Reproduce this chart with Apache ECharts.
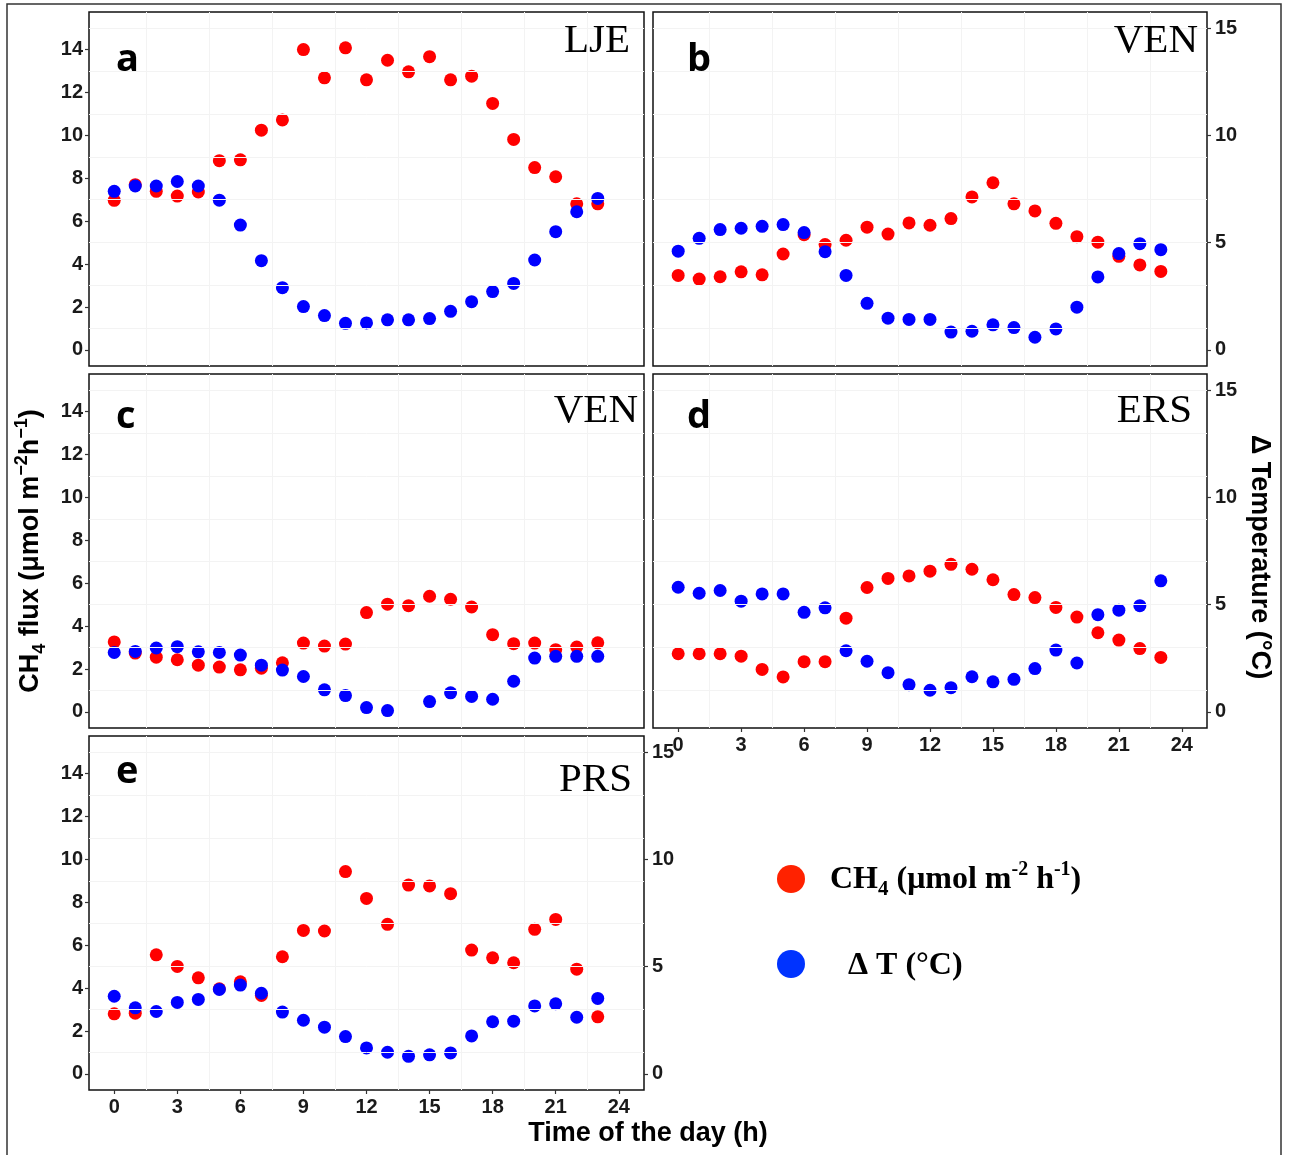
<!DOCTYPE html>
<html><head><meta charset="utf-8">
<script src="https://cdn.jsdelivr.net/npm/echarts@6/dist/echarts.min.js"></script>
<style>html,body{margin:0;padding:0;background:#fff}#c{width:1293px;height:1155px}</style>
</head><body><div id="c"></div><script>
// ---------------- data ----------------
const hours = [0,1,2,3,4,5,6,7,8,9,10,11,12,13,14,15,16,17,18,19,20,21,22,23];
const panelLetters = ['a','b','c','d','e'];
const siteNames = ['LJE','VEN','VEN','ERS','PRS'];

const ch4_a = [6.97,7.70,7.39,7.17,7.36,8.82,8.86,10.24,10.72,14.00,12.68,14.08,12.59,13.50,12.96,13.67,12.59,12.76,11.49,9.81,8.50,8.07,6.81,6.81];
const dT_a  = [7.39,7.64,7.64,7.85,7.64,6.98,5.82,4.16,2.90,2.02,1.60,1.24,1.26,1.40,1.40,1.46,1.80,2.25,2.72,3.10,4.19,5.51,6.44,7.06];

const ch4_b = [3.47,3.30,3.41,3.64,3.50,4.47,5.37,4.91,5.11,5.72,5.40,5.92,5.81,6.12,7.13,7.79,6.81,6.48,5.90,5.28,5.02,4.36,3.96,3.66];
const dT_b  = [4.60,5.20,5.61,5.67,5.76,5.84,5.47,4.58,3.47,2.17,1.48,1.42,1.42,0.83,0.87,1.17,1.04,0.59,0.98,1.99,3.40,4.49,4.95,4.67];

const ch4_c = [3.26,2.74,2.55,2.43,2.18,2.09,1.96,2.04,2.29,3.21,3.07,3.16,4.63,5.02,4.95,5.39,5.25,4.89,3.60,3.18,3.21,2.90,3.02,3.22];
const dT_c  = [2.77,2.82,2.98,3.04,2.80,2.77,2.65,2.18,1.95,1.65,1.03,0.76,0.20,0.06,null,0.48,0.89,0.72,0.59,1.43,2.51,2.59,2.59,2.59];

const ch4_d = [2.71,2.71,2.71,2.60,1.98,1.63,2.34,2.34,4.37,5.80,6.22,6.34,6.56,6.88,6.65,6.16,5.47,5.33,4.87,4.42,3.69,3.35,2.95,2.54];
const dT_d  = [5.81,5.53,5.66,5.16,5.50,5.50,4.64,4.85,2.85,2.36,1.83,1.27,1.01,1.13,1.64,1.40,1.52,2.02,2.88,2.28,4.53,4.74,4.95,6.11];

const ch4_e = [2.80,2.83,5.55,5.01,4.48,3.97,4.29,3.66,5.46,6.69,6.66,9.43,8.18,6.97,8.80,8.76,8.40,5.77,5.41,5.18,6.74,7.20,4.88,2.66];
const dT_e  = [3.62,3.08,2.91,3.33,3.47,3.94,4.14,3.76,2.88,2.50,2.18,1.74,1.21,1.01,0.82,0.89,0.98,1.77,2.43,2.46,3.17,3.27,2.64,3.52];

const hourTicks = [0,3,6,9,12,15,18,21,24];
const ch4Ticks  = [0,2,4,6,8,10,12,14];
const dTTicks   = [0,5,10,15];
const gridX = [1.5,4.5,7.5,10.5,13.5,16.5,19.5,22.5];
const gridY = [1,3,5,7,9,11,13,15];

const ch4Sets = [ch4_a, ch4_b, ch4_c, ch4_d, ch4_e];
const dTSets  = [dT_a, dT_b, dT_c, dT_d, dT_e];

// ---------------- layout ----------------
const layout = [
  {box:[89,12,555,354],  left:true,  right:false, bottom:false, letter:[116,41],  site:[630,21]},
  {box:[653,12,554,354], left:false, right:true,  bottom:false, letter:[687,41],  site:[1198,21]},
  {box:[89,374,555,354], left:true,  right:false, bottom:false, letter:[116,398], site:[638,391]},
  {box:[653,374,554,354],left:false, right:true,  bottom:true,  letter:[687,398], site:[1192,391]},
  {box:[89,736,555,354], left:true,  right:true,  bottom:true,  letter:[116,753], site:[632,760]}
];
const tickFont = {fontFamily:"'Liberation Sans',Arial,sans-serif", fontWeight:'bold', fontSize:20, color:'#1a1a1a'};
const Y0 = -0.75, Y1 = 15.75, X0 = -1.2, X1 = 25.2;

const grids=[], xAxes=[], yAxes=[], series=[], graphics=[];
layout.forEach((L,i)=>{
  grids.push({left:L.box[0], top:L.box[1], width:L.box[2], height:L.box[3], show:true, borderColor:'#111', borderWidth:1.5, backgroundColor:'#fff', containLabel:false});
  xAxes.push({type:'value', gridIndex:i, min:X0, max:X1, position:'bottom',
    axisLine:{show:false, onZero:false}, splitLine:{show:false},
    axisTick:{show:L.bottom, customValues:hourTicks, length:4, lineStyle:{color:'#333', width:1.2}},
    axisLabel:Object.assign({show:L.bottom, customValues:hourTicks, margin:7}, tickFont)});
  yAxes.push({type:'value', gridIndex:i, position:'left', min:Y0, max:Y1,
    axisLine:{show:false, onZero:false}, splitLine:{show:false},
    axisTick:{show:L.left, customValues:ch4Ticks, length:4, lineStyle:{color:'#333', width:1.2}},
    axisLabel:Object.assign({show:L.left, customValues:ch4Ticks, margin:6}, tickFont)});
  yAxes.push({type:'value', gridIndex:i, position:'right', min:Y0, max:Y1,
    axisLine:{show:false, onZero:false}, splitLine:{show:false},
    axisTick:{show:L.right, customValues:dTTicks, length:4, lineStyle:{color:'#333', width:1.2}},
    axisLabel:Object.assign({show:L.right, customValues:dTTicks, margin:8}, tickFont)});
  // faint grid lines
  series.push({type:'scatter', xAxisIndex:i, yAxisIndex:2*i, data:[], silent:true, z:0,
    markLine:{silent:true, symbol:'none', animation:false, label:{show:false},
      lineStyle:{color:'#f3f3f3', width:1, type:'solid'},
      data: gridX.map(v=>({xAxis:v})).concat(gridY.map(v=>({yAxis:v})))}});
  series.push({type:'scatter', name:'CH4', xAxisIndex:i, yAxisIndex:2*i, symbolSize:13, z:3,
    itemStyle:{color:'#ff0000', opacity:1},
    data: hours.map((h,k)=>[h, ch4Sets[i][k]]).filter(p=>p[1]!=null)});
  series.push({type:'scatter', name:'dT', xAxisIndex:i, yAxisIndex:2*i+1, symbolSize:13, z:4,
    itemStyle:{color:'#0000ff', opacity:1},
    data: hours.map((h,k)=>[h, dTSets[i][k]]).filter(p=>p[1]!=null)});
  graphics.push({type:'text', x:L.letter[0], y:L.letter[1], z:10,
    style:{text:panelLetters[i], fontFamily:"'Open Sans',sans-serif", fontWeight:'bold', fontSize:38, fill:'#000', align:'left', verticalAlign:'top'}});
  graphics.push({type:'text', x:L.site[0], y:L.site[1], z:10,
    style:{text:siteNames[i], fontFamily:"'Liberation Serif','Times New Roman',serif", fontSize:41, fill:'#000', align:'right', verticalAlign:'top'}});
});

const sansB = "'Liberation Sans',Arial,sans-serif";
const serif = "'Liberation Serif','Times New Roman',serif";
// axis titles
graphics.push({type:'text', x:31, y:551, rotation:Math.PI/2, z:10,
  style:{text:'{a|CH}{s|4}{a| flux (μmol m}{p|−2}{a|h}{p|−1}{a|)}', align:'center', verticalAlign:'middle',
    rich:{a:{fontFamily:sansB, fontWeight:'bold', fontSize:27, lineHeight:36, fill:'#000'},
          s:{fontFamily:sansB, fontWeight:'bold', fontSize:18, lineHeight:18, verticalAlign:'bottom', fill:'#000'},
          p:{fontFamily:sansB, fontWeight:'bold', fontSize:18, lineHeight:18, verticalAlign:'top', fill:'#000'}}}});
graphics.push({type:'text', x:1259, y:557, rotation:-Math.PI/2, z:10,
  style:{text:'Δ Temperature (°C)', align:'center', verticalAlign:'middle', fontFamily:sansB, fontWeight:'bold', fontSize:27, fill:'#000'}});
graphics.push({type:'text', x:648, y:1134, z:10,
  style:{text:'Time of the day (h)', align:'center', verticalAlign:'middle', fontFamily:sansB, fontWeight:'bold', fontSize:27, fill:'#000'}});
// legend
graphics.push({type:'circle', shape:{cx:791, cy:879, r:14}, style:{fill:'#ff2200'}, z:10});
graphics.push({type:'circle', shape:{cx:791, cy:964, r:14}, style:{fill:'#0033ff'}, z:10});
graphics.push({type:'text', x:830, y:880, z:10,
  style:{text:'{a|CH}{s|4}{a| (μmol m}{p|-2}{a| h}{p|-1}{a|)}', align:'left', verticalAlign:'middle',
    rich:{a:{fontFamily:serif, fontWeight:'bold', fontSize:32, lineHeight:40, fill:'#000'},
          s:{fontFamily:serif, fontWeight:'bold', fontSize:21, lineHeight:21, verticalAlign:'bottom', fill:'#000'},
          p:{fontFamily:serif, fontWeight:'bold', fontSize:20, lineHeight:20, verticalAlign:'top', fill:'#000'}}}});
graphics.push({type:'text', x:848, y:966, z:10,
  style:{text:'Δ T (°C)', align:'left', verticalAlign:'middle', fontFamily:serif, fontWeight:'bold', fontSize:32, fill:'#000'}});
// outer frame
graphics.push({type:'rect', shape:{x:7, y:4, width:1274, height:1170}, style:{fill:'none', stroke:'#333', lineWidth:1.5}, z:0, silent:true});

const chart = echarts.init(document.getElementById('c'), null, {renderer:'canvas'});
chart.setOption({animation:false, backgroundColor:'#fff', grid:grids, xAxis:xAxes, yAxis:yAxes, series:series, graphic:graphics});
</script></body></html>
